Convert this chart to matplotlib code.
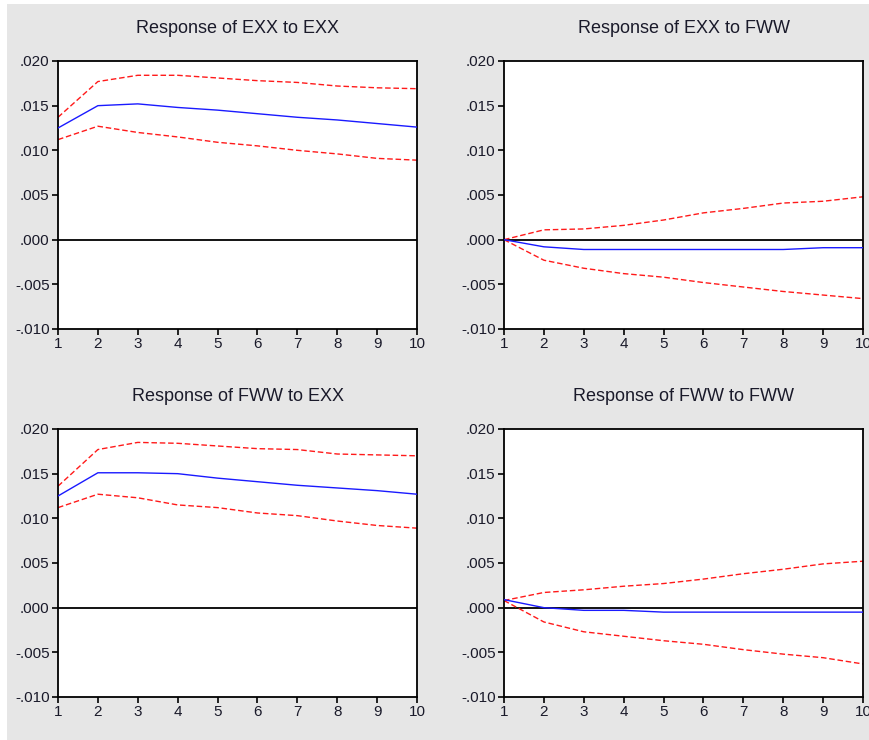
import matplotlib.pyplot as plt
import numpy as np

plt.rcParams['font.family'] = ['Liberation Sans', 'DejaVu Sans']

periods = np.arange(1, 11)

titles = ["Response of EXX to EXX", "Response of EXX to FWW",
          "Response of FWW to EXX", "Response of FWW to FWW"]

# impulse responses (center) and +/- 2 s.e. bands
exx_exx = [.0125, .0150, .0152, .0148, .0145, .0141, .0137, .0134, .0130, .0126]
exx_exx_hi = [.0137, .0177, .0184, .0184, .0181, .0178, .0176, .0172, .0170, .0169]
exx_exx_lo = [.0112, .0127, .0120, .0115, .0109, .0105, .0100, .0096, .0091, .0089]

exx_fww = [.0000, -.0008, -.0011, -.0011, -.0011, -.0011, -.0011, -.0011, -.0009, -.0009]
exx_fww_hi = [.0000, .0011, .0012, .0016, .0022, .0030, .0035, .0041, .0043, .0048]
exx_fww_lo = [.0000, -.0023, -.0032, -.0038, -.0042, -.0048, -.0053, -.0058, -.0062, -.0066]

fww_exx = [.0125, .0151, .0151, .0150, .0145, .0141, .0137, .0134, .0131, .0127]
fww_exx_hi = [.0136, .0177, .0185, .0184, .0181, .0178, .0177, .0172, .0171, .0170]
fww_exx_lo = [.0112, .0127, .0123, .0115, .0112, .0106, .0103, .0097, .0092, .0089]

fww_fww = [.0009, .0000, -.0003, -.0003, -.0005, -.0005, -.0005, -.0005, -.0005, -.0005]
fww_fww_hi = [.0008, .0017, .0020, .0024, .0027, .0032, .0038, .0043, .0049, .0052]
fww_fww_lo = [.0008, -.0016, -.0027, -.0032, -.0037, -.0041, -.0047, -.0052, -.0056, -.0063]

series = [(exx_exx, exx_exx_hi, exx_exx_lo),
          (exx_fww, exx_fww_hi, exx_fww_lo),
          (fww_exx, fww_exx_hi, fww_exx_lo),
          (fww_fww, fww_fww_hi, fww_fww_lo)]

yticks = [-.010, -.005, .000, .005, .010, .015, .020]
ytick_labels = ["-.010", "-.005", ".000", ".005", ".010", ".015", ".020"]

W, H = 869, 740
fig = plt.figure(figsize=(W / 100, H / 100), dpi=100)
fig.patch.set_facecolor('white')
# grey panel behind the charts
bg = plt.Rectangle((7 / W, 0), 1 - 7 / W, 1 - 4 / H, transform=fig.transFigure,
                   facecolor='#e6e6e6', edgecolor='none', zorder=-10)
fig.add_artist(bg)

# axes boxes in pixels: left, top
boxes = [(58, 61), (504, 61), (58, 429), (504, 429)]
aw, ah = 359, 268

for i, (left, top) in enumerate(boxes):
    ax = fig.add_axes([left / W, 1 - (top + ah) / H, aw / W, ah / H])
    ax.set_facecolor('white')
    mid, hi, lo = series[i]
    ax.axhline(0, color='black', lw=1.3, zorder=1)
    ax.plot(periods, hi, color='#ff1a1a', lw=1.0, dashes=(4, 2), zorder=2)
    ax.plot(periods, lo, color='#ff1a1a', lw=1.0, dashes=(4, 2), zorder=2)
    ax.plot(periods, mid, color='#1a1aff', lw=1.0, zorder=3)
    ax.set_xlim(1, 10)
    ax.set_ylim(-.010, .020)
    ax.set_xticks(periods)
    ax.set_xticklabels([str(p) for p in periods])
    ax.set_yticks(yticks)
    ax.set_yticklabels(ytick_labels)
    ax.tick_params(direction='out', length=4, width=1.2, colors='black',
                   labelsize=11, pad=2, labelcolor='#1a1a2a')
    for s in ax.spines.values():
        s.set_linewidth(1.3)
        s.set_color('black')
    ax.set_title(titles[i], fontsize=13, pad=20, color='#1a1a2a')

fig.savefig("out.png", dpi=100, facecolor=fig.get_facecolor())
